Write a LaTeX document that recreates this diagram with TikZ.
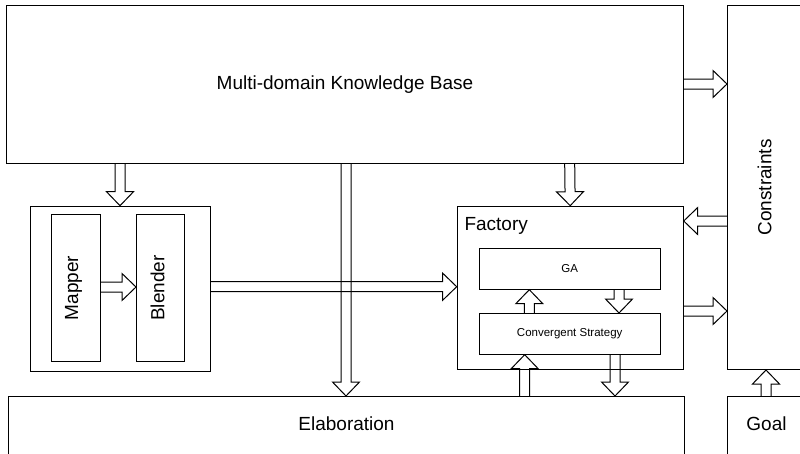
\documentclass[tikz,border=0pt]{standalone}
\usepackage{fontspec}
\setmainfont{Liberation Sans}
\usepackage{graphicx}
\usetikzlibrary{calc}
\newcommand\barrow[2]{%
  \path (#1) coordinate (bs) (#2) coordinate (bt);
  \path ($(bt)!14pt!(bs)$) coordinate (bb);
  \draw[arrowline] ($(bs)!5pt!90:(bt)$) -- ($(bb)!5pt!-90:(bs)$) -- ($(bb)!13.5pt!-90:(bs)$) -- (bt)
     -- ($(bb)!13.5pt!90:(bs)$) -- ($(bb)!5pt!90:(bs)$) -- ($(bs)!5pt!-90:(bt)$);
}
\begin{document}
\begin{tikzpicture}[x=1pt,y=-1pt,line width=1pt,
  box/.style={draw, rectangle, inner sep=0pt, anchor=north west, font=\fontsize{19}{22}\selectfont},
  smallbox/.style={box, font=\fontsize{11.5}{14}\selectfont},
  lowtext/.style={text height=14pt, text depth=10pt},
  arrowline/.style={draw, line join=miter}]
\useasboundingbox (0,0) rectangle (800,453);
\clip (0,0) rectangle (800,453);
% boxes
\node[box, minimum width=677, minimum height=158] (kb) at (6,5) {Multi-domain Knowledge Base};
\node[box, minimum width=74, minimum height=364] (cons) at (727,5) {\rotatebox{90}{Constraints}};
\node[box, minimum width=180, minimum height=165] (grp) at (30,205.7) {};
\node[box, minimum width=49, minimum height=147] (mapper) at (51,214) {\rotatebox{90}{Mapper}\hspace*{5pt}};
\node[box, minimum width=48, minimum height=147] (blender) at (136,214) {\rotatebox{90}{Blender}\hspace*{6pt}};
\node[box, minimum width=226, minimum height=163.3] (fac) at (456.7,205.7) {};
\node[anchor=base west, inner sep=0pt, font=\fontsize{19}{22}\selectfont] (factitle) at (464,230) {Factory};
\node[smallbox, minimum width=181, minimum height=41] (ga) at (478.7,247.7) {GA};
\node[smallbox, minimum width=181, minimum height=40.7] (cs) at (478.7,313) {Convergent Strategy};
\node[box, lowtext, minimum width=676, minimum height=64] (elab) at (8,396) {Elaboration};
\node[box, lowtext, minimum width=78, minimum height=64] (goal) at (727,396) {Goal};
% arrows
\barrow{kb.south -| 120,0}{grp.north -| 120,0}
\barrow{kb.south -| 346,0}{elab.north -| 346,0}
\barrow{kb.south -| 569.7,0}{fac.north}
\barrow{kb.east |- 0,84}{cons.west |- 0,84}
\barrow{cons.west |- 0,221}{fac.east |- 0,221}
\barrow{grp.east |- 0,286.7}{fac.west |- 0,286.7}
\barrow{fac.east |- 0,311}{cons.west |- 0,311}
\barrow{cs.north -| 529.3,0}{ga.south -| 529.3,0}
\barrow{ga.south -| 619,0}{cs.north -| 619,0}
\barrow{elab.north -| 524.7,0}{cs.south -| 524.7,0}
\barrow{cs.south -| 615,0}{elab.north -| 615,0}
\barrow{goal.north -| 766,0}{cons.south -| 766,0}
\barrow{mapper.east |- 0,287}{blender.west |- 0,287}
\end{tikzpicture}
\end{document}
